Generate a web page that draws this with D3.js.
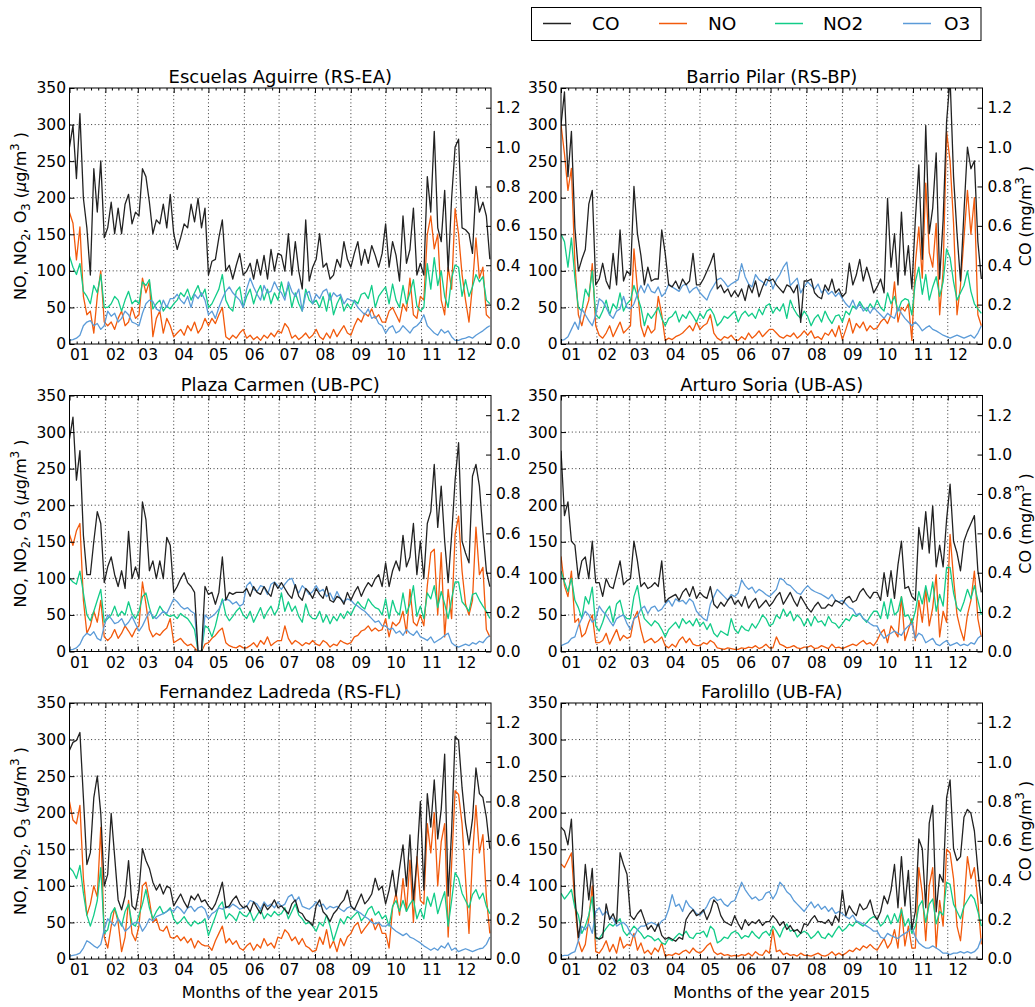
<!DOCTYPE html>
<html><head><meta charset="utf-8">
<script src="https://cdn.jsdelivr.net/npm/d3@7"></script>
<style>body{margin:0;background:#fff} svg{display:block} text{font-family:"DejaVu Sans",sans-serif;fill:#000}</style>
</head><body><svg id="c" width="1035" height="1007"></svg>
<script>
// ---------------- DATA (one value every 3 days, starting 2015-01-01) ----------------
const stations = ["Escuelas Aguirre (RS-EA)","Barrio Pilar (RS-BP)","Plaza Carmen (UB-PC)","Arturo Soria (UB-AS)","Fernandez Ladreda (RS-FL)","Farolillo (UB-FA)"];
const monthLabels = ["01","02","03","04","05","06","07","08","09","10","11","12"];
const leftTicks = [0,50,100,150,200,250,300,350];
const rightTicks = [0.0,0.2,0.4,0.6,0.8,1.0,1.2];
const seriesNames = ["CO","NO","NO2","O3"];
const stepDays = 3;

// Escuelas Aguirre
const coEA = [1.00,1.11,0.84,1.17,0.74,0.59,0.35,0.89,0.67,0.93,0.54, 0.59,0.72,0.56,0.69,0.56,0.71,0.76,0.61,0.67, 0.65,0.89,0.85,0.72,0.56,0.63,0.61,0.71,0.59,0.76, 0.56,0.48,0.54,0.61,0.59,0.71,0.62,0.74,0.59,0.69, 0.35,0.42,0.43,0.54,0.63,0.37,0.40,0.33,0.40,0.46,0.35, 0.37,0.41,0.33,0.43,0.35,0.45,0.33,0.48,0.37,0.46, 0.45,0.37,0.56,0.35,0.52,0.37,0.28,0.63,0.32,0.39, 0.43,0.56,0.39,0.41,0.33,0.35,0.43,0.39,0.52,0.43, 0.39,0.46,0.52,0.40,0.48,0.41,0.50,0.45,0.39,0.46, 0.61,0.39,0.52,0.45,0.32,0.65,0.41,0.48,0.69,0.35,0.41, 0.35,0.85,0.67,1.08,0.59,0.52,0.78,0.37,0.74,1.00, 1.04,0.59,0.58,0.56,0.46,0.80,0.67,0.72,0.65,0.43];
const noEA = [180,165,115,160,65,40,45,15,65,100,30, 25,30,20,35,45,25,30,50,35, 40,90,70,85,10,35,45,15,35,25, 10,15,20,12,25,18,30,15,22,35, 25,35,28,40,50,10,6,12,8,15,20, 8,12,6,10,5,12,8,15,10,18, 15,28,22,8,12,6,10,15,8,12, 20,10,6,15,8,20,10,18,25,15, 12,25,35,30,42,38,48,35,40,30, 30,45,50,40,30,55,45,90,40,35,65, 60,150,175,130,150,60,40,105,75,185, 150,95,60,30,80,145,90,105,40,35];
const no2EA = [120,105,95,110,72,65,55,80,70,95,50, 50,55,65,60,45,60,72,55,60, 55,85,80,88,48,55,60,45,52,48, 55,60,70,65,75,60,70,80,65,75, 50,55,65,75,95,60,50,45,72,78,50, 65,75,55,70,80,60,75,55,70,60, 85,65,80,50,70,55,45,75,60,55, 60,50,65,45,70,40,55,65,45,55, 48,60,55,68,70,62,80,50,65,72, 78,55,82,60,50,80,55,70,88,52,45, 50,110,75,118,80,100,65,50,90,108, 105,65,88,65,78,95,85,92,60,55];
const o3EA = [5,6,8,12,25,30,32,25,28,20,25, 45,38,42,30,35,45,40,30,28, 25,42,55,60,58,48,45,60,50,62, 62,68,60,55,65,50,68,62,70,60, 40,45,35,50,62,72,78,70,65,60,50, 75,90,78,68,60,80,70,72,85,75, 70,60,85,72,65,75,45,68,72,55, 68,62,72,75,60,70,65,68,55,62, 60,58,50,45,40,48,35,38,28,25, 15,22,25,15,18,25,20,15,22,25,30, 40,25,20,15,12,20,15,18,10,5, 5,7,8,10,8,12,15,18,22,25];

// Barrio Pilar
const coBP = [1.11,1.28,0.85,1.08,0.59,0.37,0.43,0.48,0.71,0.78,0.30, 0.33,0.41,0.32,0.28,0.46,0.30,0.58,0.32,0.37, 0.35,0.80,0.56,0.45,0.30,0.39,0.32,0.33,0.33,0.58, 0.46,0.30,0.29,0.32,0.28,0.33,0.30,0.32,0.46,0.30, 0.30,0.33,0.37,0.41,0.46,0.28,0.30,0.26,0.28,0.24,0.27, 0.24,0.28,0.22,0.30,0.26,0.32,0.24,0.29,0.33,0.32, 0.33,0.30,0.28,0.26,0.30,0.29,0.26,0.30,0.11,0.32, 0.32,0.33,0.26,0.24,0.23,0.30,0.27,0.33,0.26,0.28, 0.24,0.26,0.41,0.30,0.35,0.43,0.32,0.39,0.33,0.26, 0.29,0.33,0.26,0.74,0.39,0.56,0.30,0.67,0.35,0.50,0.28, 0.63,0.91,0.43,1.11,0.56,0.69,0.97,0.33,0.63,1.13, 1.35,0.85,0.56,0.32,0.67,1.00,0.89,0.93,0.52,0.33];
const noBP = [300,260,210,240,110,40,25,45,60,110,25, 12,8,15,25,10,20,30,15,20, 25,130,75,25,10,25,15,20,65,40, 5,8,6,10,12,15,20,25,18,30, 20,25,28,40,15,8,5,10,8,12,6, 5,10,6,15,8,12,18,10,15,20, 20,15,10,8,12,10,15,8,12,18, 12,18,8,10,6,15,12,20,10,25, 6,20,35,15,28,22,30,18,25,20, 22,30,35,28,40,85,30,50,45,55,5, 110,160,90,220,125,105,165,40,100,290, 250,165,40,80,145,210,150,200,40,25];
const no2BP = [150,140,105,145,90,50,45,75,65,100,40, 35,45,60,40,55,48,70,45,55, 60,80,65,50,25,42,35,42,50,35, 25,35,38,45,30,40,35,45,38,30, 42,35,45,48,40,25,30,38,35,40,45, 30,40,45,38,42,35,48,40,52,55, 42,50,45,55,35,60,48,40,35,45, 38,25,35,40,30,45,35,28,38,40, 30,45,40,52,48,58,50,45,55,48, 60,50,45,70,55,65,45,58,62,60,40, 85,105,68,95,60,78,92,65,85,130, 118,85,60,70,80,100,72,55,48,42];
const o3BP = [5,6,10,20,30,20,48,40,32,25,40, 62,58,50,40,35,45,48,65,50, 48,55,68,80,70,82,72,70,78,65, 70,82,78,75,72,80,82,70,75,78, 70,65,60,72,80,88,90,85,78,82,85, 88,110,92,82,78,95,88,85,80,92, 75,88,95,105,112,80,85,90,70,78, 85,80,75,82,70,75,68,72,65,70, 62,55,50,60,48,55,45,50,42,50, 45,40,35,42,38,35,50,42,35,30,25, 30,25,18,22,25,20,18,15,12,10, 8,10,12,10,8,10,12,8,15,25];

// Plaza Carmen
const coPC = [1.08,1.19,0.87,1.02,0.59,0.39,0.39,0.56,0.71,0.65,0.35, 0.43,0.48,0.39,0.33,0.41,0.32,0.61,0.37,0.43, 0.37,0.76,0.67,0.41,0.46,0.37,0.46,0.37,0.58,0.54, 0.30,0.33,0.37,0.40,0.35,0.33,0.30,0,0,0.33, 0.29,0.30,0.24,0.30,0.48,0.26,0.30,0.29,0.30,0.30,0.30, 0.32,0.28,0.33,0.30,0.29,0.33,0.30,0.28,0.35,0.32, 0.35,0.32,0.29,0.27,0.34,0.28,0.26,0.32,0.30,0.27, 0.32,0.29,0.27,0.33,0.26,0.25,0.28,0.27,0.24,0.30, 0.26,0.30,0.33,0.28,0.32,0.35,0.33,0.37,0.39,0.33, 0.45,0.33,0.41,0.46,0.41,0.59,0.43,0.48,0.65,0.39,0.56, 0.37,0.65,0.71,0.95,0.63,0.84,0.56,0.35,0.59,0.87, 1.06,0.56,0.50,0.45,0.89,0.95,0.84,0.61,0.41,0.33];
const noPC = [160,145,165,175,70,25,35,55,40,70,20, 15,20,30,18,25,35,28,20,30, 35,95,65,30,20,25,22,28,32,45, 12,15,18,12,8,10,5,0,0,10, 12,18,22,28,32,12,8,6,5,8,5, 5,8,12,6,15,10,20,8,12,15, 15,35,18,10,15,12,8,12,10,15, 10,8,15,12,6,10,8,15,12,10, 12,20,22,28,30,35,28,32,28,30, 45,20,40,35,40,55,25,85,40,35,50, 35,90,135,140,50,135,20,85,45,160, 185,110,65,50,70,170,105,115,30,20];
const no2PC = [100,95,92,110,80,50,42,55,70,85,40, 45,50,62,48,55,50,68,52,45, 55,75,80,60,45,50,62,55,50,48, 50,45,52,48,45,38,30,0,0,35, 32,20,35,55,72,50,42,48,55,60,50, 45,55,40,50,60,45,55,62,50,58, 80,55,68,55,62,48,40,65,50,45, 45,55,40,50,38,48,42,52,45,55, 50,60,68,62,58,72,65,60,58,50, 72,45,70,55,50,80,52,65,90,48,62, 45,80,72,90,60,82,65,45,72,95, 95,68,62,55,78,80,70,62,55,45];
const o3PC = [2,3,5,10,20,25,22,27,18,15,35, 50,45,38,40,45,35,40,48,38, 28,35,45,55,48,45,50,55,52,62, 72,68,62,58,60,55,52,0,0,50, 45,48,52,58,68,72,70,65,68,62,65, 90,95,85,82,90,88,78,92,95,90, 85,92,98,100,88,80,90,85,78,82, 90,82,85,75,80,70,82,72,68,72, 70,65,62,58,55,50,45,40,42,35, 35,30,32,25,28,22,30,25,22,28,20, 18,15,20,12,15,18,22,25,12,8, 6,8,10,8,12,10,14,12,18,22];

// Arturo Soria
const coAS = [1.02,0.69,0.76,0.56,0.54,0.37,0.46,0.48,0.37,0.56,0.35, 0.35,0.28,0.37,0.33,0.32,0.39,0.46,0.34,0.36, 0.37,0.56,0.46,0.33,0.35,0.32,0.33,0.35,0.33,0.46, 0.25,0.27,0.28,0.29,0.26,0.30,0.32,0.28,0.33,0.27, 0.30,0.28,0.27,0.33,0.24,0.22,0.25,0.23,0.26,0.28,0.24, 0.26,0.23,0.28,0.22,0.25,0.27,0.22,0.24,0.26,0.23, 0.25,0.28,0.30,0.24,0.27,0.30,0.26,0.23,0.28,0.25, 0.22,0.20,0.23,0.25,0.22,0.22,0.24,0.23,0.26,0.25, 0.24,0.27,0.28,0.25,0.26,0.30,0.32,0.29,0.27,0.30, 0.30,0.26,0.40,0.28,0.41,0.27,0.44,0.56,0.32,0.33,0.28, 0.26,0.63,0.52,0.71,0.50,0.74,0.43,0.54,0.43,0.67, 0.85,0.56,0.50,0.41,0.56,0.61,0.65,0.69,0.41,0.30];
const noAS = [130,90,75,110,40,45,20,25,40,50,12, 12,15,25,10,20,30,15,22,18, 20,45,55,30,12,15,18,12,15,20, 8,5,10,6,15,20,12,18,10,8, 8,12,10,15,12,5,4,3,5,4,3, 3,5,4,6,5,8,4,6,10,5, 5,20,10,8,5,6,8,5,4,6, 6,8,4,5,8,6,4,10,5,6, 4,6,8,10,8,12,15,10,12,8, 15,25,30,12,35,28,20,75,15,30,45, 15,70,40,85,35,60,105,20,55,40, 160,100,50,30,15,50,70,110,45,20];
const no2AS = [110,95,82,100,70,60,45,75,65,88,35, 28,40,55,62,40,65,70,50,45, 45,75,90,60,45,40,35,42,38,30, 20,30,35,40,32,45,38,42,35,45, 35,40,30,38,25,20,28,25,22,45,30, 25,35,30,28,38,32,40,50,45,35, 38,50,45,58,48,55,42,50,45,35, 45,35,48,40,42,35,48,40,38,32, 38,45,42,50,48,52,45,40,48,55, 55,45,68,45,72,50,55,75,48,50,38, 55,82,65,90,68,95,55,78,62,115, 115,80,60,55,68,85,72,90,70,50];
const o3AS = [8,10,12,18,20,35,45,55,50,40,45, 62,55,50,42,35,45,48,50,38, 30,45,48,58,62,52,60,62,55,58, 65,70,62,72,68,70,65,72,68,55, 50,45,42,65,75,85,80,75,70,78,75, 80,98,90,85,88,80,85,82,78,75, 80,85,100,98,92,90,85,80,78,85, 90,85,82,80,78,75,72,78,70,68, 70,65,60,58,50,52,45,42,38,35, 35,25,18,22,25,28,25,22,30,35,38, 18,25,22,12,15,18,10,8,12,15, 8,10,12,8,10,8,12,10,18,22];

// Fernandez Ladreda
const coFL = [1.06,1.10,1.11,1.15,0.82,0.48,0.54,0.82,0.93,0.74,0.37, 0.43,0.74,0.52,0.30,0.25,0.32,0.50,0.27,0.25, 0.35,0.56,0.50,0.46,0.39,0.35,0.38,0.33,0.37,0.36, 0.27,0.30,0.33,0.29,0.26,0.32,0.30,0.33,0.29,0.30, 0.27,0.25,0.28,0.33,0.39,0.26,0.27,0.30,0.32,0.28,0.26, 0.27,0.24,0.29,0.26,0.23,0.28,0.25,0.27,0.30,0.26, 0.27,0.25,0.23,0.28,0.30,0.24,0.23,0.20,0.19,0.17, 0.27,0.30,0.24,0.22,0.19,0.23,0.25,0.28,0.30,0.35, 0.27,0.25,0.29,0.33,0.28,0.30,0.33,0.41,0.35,0.37, 0.28,0.35,0.45,0.32,0.46,0.58,0.37,0.63,0.30,0.50,0.80, 0.35,0.84,0.67,0.91,0.61,0.76,1.04,0.32,0.65,1.13, 1.11,0.87,0.69,0.58,0.71,0.97,0.84,0.82,0.72,0.56];
const noFL = [215,190,185,210,110,60,75,100,85,180,30, 15,45,70,50,10,30,80,35,25, 45,100,105,80,50,55,40,38,45,30, 28,32,25,30,22,28,15,25,20,18, 18,12,25,35,45,22,28,20,25,15,12, 18,22,12,20,15,28,18,22,15,30, 28,40,35,25,30,20,28,18,15,10, 12,30,20,40,15,25,10,28,18,30, 35,45,50,35,42,48,55,40,50,35, 35,15,70,90,60,110,65,135,50,140,80, 75,185,145,200,100,160,185,30,130,230, 225,185,110,35,140,210,145,170,85,35];
const no2FL = [125,120,110,128,90,60,45,60,80,125,35, 40,62,70,55,45,65,75,48,45, 60,75,95,70,55,65,72,62,65,70, 55,48,52,58,50,45,52,48,50,55, 32,45,58,72,78,55,62,58,52,65,60, 58,65,52,60,68,55,62,58,65,60, 62,70,55,65,75,60,55,48,50,45, 38,50,45,60,45,25,40,55,48,58, 55,60,65,52,58,68,72,60,65,55, 60,45,72,80,65,80,65,75,82,55,68, 55,85,72,90,62,78,92,45,80,118, 110,90,80,70,88,95,82,90,72,62];
const o3FL = [4,5,6,8,15,25,22,18,15,20,40, 55,50,45,55,48,38,42,48,50, 50,38,45,55,52,58,60,62,65,68, 65,72,68,62,70,72,65,70,72,68, 55,62,65,70,68,72,70,75,72,68,70, 72,80,78,75,68,78,72,75,70,78, 72,75,85,88,78,85,72,70,68,72, 78,72,75,68,72,70,72,68,65,70, 72,68,65,62,58,55,50,48,50,45, 45,48,42,38,35,32,35,30,28,25,22, 18,15,12,15,12,18,15,22,12,15, 10,12,14,12,10,12,14,15,20,30];

// Farolillo
const coFA = [0.67,0.65,0.58,0.71,0.32,0.11,0.22,0.48,0.30,0.46,0.11, 0.10,0.11,0.28,0.20,0.23,0.18,0.54,0.48,0.43, 0.22,0.20,0.23,0.25,0.20,0.15,0.17,0.14,0.18,0.12, 0.10,0.11,0.10,0.09,0.11,0.10,0.20,0.23,0.25,0.22, 0.23,0.25,0.20,0.24,0.30,0.28,0.22,0.19,0.18,0.17,0.22, 0.18,0.15,0.20,0.17,0.19,0.18,0.20,0.17,0.19,0.19, 0.22,0.20,0.17,0.19,0.15,0.17,0.14,0.15,0.13,0.18, 0.17,0.20,0.22,0.19,0.19,0.18,0.20,0.17,0.22,0.19, 0.35,0.22,0.27,0.24,0.22,0.28,0.25,0.26,0.30,0.23, 0.20,0.24,0.32,0.28,0.35,0.48,0.26,0.52,0.27,0.45,0.15, 0.24,0.61,0.56,0.26,0.69,0.78,0.24,0.43,0.39,0.82, 0.91,0.56,0.50,0.52,0.72,0.76,0.74,0.65,0.45,0.28];
const noFA = [130,125,135,145,75,25,10,20,55,100,10, 8,15,25,10,20,8,30,15,20, 18,35,12,22,8,12,6,15,10,22, 4,6,5,8,6,10,12,8,15,10, 8,12,18,22,10,6,8,5,6,4,5, 4,6,5,8,4,10,6,5,12,8, 40,10,12,6,8,5,6,4,8,5, 5,4,6,8,5,4,6,10,5,8, 5,8,12,10,15,12,18,15,20,15, 12,20,28,15,22,40,15,70,18,45,15, 15,125,90,25,100,125,15,80,45,150, 145,110,45,25,75,140,110,125,80,20];
const no2FA = [90,82,88,95,70,60,35,45,60,85,28, 28,35,42,48,45,50,55,38,32, 38,45,40,35,28,32,30,25,28,22, 20,28,25,30,35,32,38,30,28,35, 35,38,30,45,40,22,25,30,28,35,38, 35,28,32,30,38,32,28,35,38,32, 45,38,30,42,48,38,40,30,35,38, 35,28,32,38,30,28,35,30,38,45, 38,42,48,45,52,48,45,50,55,58, 55,45,50,60,48,62,50,68,45,55,35, 45,72,80,50,75,82,48,65,60,105, 102,75,65,55,72,80,88,82,65,45];
const o3FA = [4,5,5,8,10,25,45,40,48,35,65, 70,60,65,58,55,45,48,50,45, 35,30,40,45,45,48,50,48,45,52, 55,68,88,72,75,65,80,72,68,62, 60,65,72,82,85,80,82,75,72,78,80, 92,105,95,88,82,85,80,82,90,92, 82,90,105,100,92,88,80,75,70,65, 72,78,70,75,68,72,65,70,62,65, 62,58,55,60,52,50,48,45,42,38, 38,30,28,35,32,30,28,32,35,38,45, 30,22,18,15,15,18,15,12,8,8, 6,8,8,10,8,10,8,10,15,28];

// table built from the arrays
const panels = [
  {title: stations[0], CO: coEA, NO: noEA, NO2: no2EA, O3: o3EA},
  {title: stations[1], CO: coBP, NO: noBP, NO2: no2BP, O3: o3BP},
  {title: stations[2], CO: coPC, NO: noPC, NO2: no2PC, O3: o3PC},
  {title: stations[3], CO: coAS, NO: noAS, NO2: no2AS, O3: o3AS},
  {title: stations[4], CO: coFL, NO: noFL, NO2: no2FL, O3: o3FL},
  {title: stations[5], CO: coFA, NO: noFA, NO2: no2FA, O3: o3FA}
];

// ---------------- DRAWING ----------------
const colors = {CO:"#222222", NO:"#f25a0c", NO2:"#12cc88", O3:"#5b9bd8"};
const svg = d3.select("#c");
const W = 421.5, H = 256;
const colX = [69.5, 561];
const rowY = [88, 395.5, 703];
const t0 = Date.UTC(2015,0,1), t1 = Date.UTC(2015,11,31);
const dayMs = 864e5;
const FONT = "DejaVu Sans";

const months = d3.utcMonth.range(new Date(t0), new Date(t1));
const minorTicks = [];
months.forEach(m => {
  const next = d3.utcMonth.offset(m, 1);
  const len = next - m;
  for (let j = 1; j < 5; j++) {
    const t = new Date(+m + j * len / 5);
    if (+t <= t1) minorTicks.push(t);
  }
});

const defs = svg.append("defs");

panels.forEach((p, k) => {
  const col = k % 2, row = Math.floor(k / 2);
  const x0 = colX[col], y0 = rowY[row];
  const x = d3.scaleUtc().domain([t0, t1]).range([x0, x0 + W]);
  const yL = d3.scaleLinear().domain([0, 350]).range([y0 + H, y0]);
  const yR = d3.scaleLinear().domain([0, 1.3]).range([y0 + H, y0]);
  const g = svg.append("g");
  const cid = "clip" + k;
  defs.append("clipPath").attr("id", cid).append("rect")
    .attr("x", x0).attr("y", y0).attr("width", W).attr("height", H);

  // grid
  g.selectAll(null).data(months.slice(1)).enter().append("line")
    .attr("x1", d => x(d)).attr("x2", d => x(d)).attr("y1", y0).attr("y2", y0 + H)
    .attr("stroke", "#000").attr("stroke-width", 0.8).attr("stroke-dasharray", "1,2.6");
  g.selectAll(null).data(leftTicks.filter(v => v > 0 && v < 350)).enter().append("line")
    .attr("x1", x0).attr("x2", x0 + W).attr("y1", d => yL(d)).attr("y2", d => yL(d))
    .attr("stroke", "#000").attr("stroke-width", 0.8).attr("stroke-dasharray", "1,2.6");

  // data lines
  const lg = g.append("g").attr("clip-path", `url(#${cid})`);
  const dateAt = i => new Date(t0 + i * stepDays * dayMs);
  const lineL = d3.line().x((d, i) => x(dateAt(i))).y(d => yL(d));
  const lineR = d3.line().x((d, i) => x(dateAt(i))).y(d => yR(d));
  ["NO", "NO2", "O3"].forEach(s => {
    lg.append("path").attr("d", lineL(p[s])).attr("fill", "none")
      .attr("stroke", colors[s]).attr("stroke-width", 1.3).attr("stroke-linejoin", "round");
  });
  lg.append("path").attr("d", lineR(p.CO)).attr("fill", "none")
    .attr("stroke", colors.CO).attr("stroke-width", 1.3).attr("stroke-linejoin", "round");

  // axes
  const styleAxis = sel => {
    sel.select(".domain").remove();
    sel.attr("font-family", FONT).attr("font-size", 15.5);
    sel.selectAll("line").attr("stroke", "#000");
    sel.selectAll("text").attr("fill", "#000");
  };
  const xb = g.append("g").attr("transform", `translate(0,${y0 + H})`)
    .call(d3.axisBottom(x).tickValues(months).tickSizeInner(-5).tickSizeOuter(0).tickPadding(5)
      .tickFormat(d => monthLabels[d.getUTCMonth()]));
  styleAxis(xb);
  xb.selectAll("text").attr("text-anchor", "start");
  const xt = g.append("g").attr("transform", `translate(0,${y0})`)
    .call(d3.axisTop(x).tickValues(months).tickSizeInner(-5).tickSizeOuter(0).tickFormat(""));
  styleAxis(xt);
  const xbm = g.append("g").attr("transform", `translate(0,${y0 + H})`)
    .call(d3.axisBottom(x).tickValues(minorTicks).tickSizeInner(-2.5).tickSizeOuter(0).tickFormat(""));
  styleAxis(xbm);
  const xtm = g.append("g").attr("transform", `translate(0,${y0})`)
    .call(d3.axisTop(x).tickValues(minorTicks).tickSizeInner(-2.5).tickSizeOuter(0).tickFormat(""));
  styleAxis(xtm);
  const yl = g.append("g").attr("transform", `translate(${x0},0)`)
    .call(d3.axisLeft(yL).tickValues(leftTicks).tickSizeInner(-5).tickSizeOuter(0).tickPadding(3.5)
      .tickFormat(d3.format("d")));
  styleAxis(yl);
  const yr = g.append("g").attr("transform", `translate(${x0 + W},0)`)
    .call(d3.axisRight(yR).tickValues(rightTicks).tickSizeInner(-5).tickSizeOuter(0).tickPadding(5)
      .tickFormat(d3.format(".1f")));
  styleAxis(yr);

  // frame
  g.append("rect").attr("x", x0).attr("y", y0).attr("width", W).attr("height", H)
    .attr("fill", "none").attr("stroke", "#000").attr("stroke-width", 1);

  // title
  g.append("text").attr("x", x0 + W / 2).attr("y", y0 - 5).attr("text-anchor", "middle")
    .attr("font-size", 18).attr("font-family", FONT).text(p.title);

  // axis labels
  if (col === 0) {
    const t = g.append("text").attr("transform", `translate(20,${y0 + H / 2}) rotate(-90)`)
      .attr("text-anchor", "middle").attr("dy", "0.35em").attr("font-size", 16).attr("font-family", FONT);
    t.append("tspan").text("NO, NO");
    t.append("tspan").attr("font-size", 11.5).attr("dy", 4).text("2");
    t.append("tspan").attr("dy", -4).text(", O");
    t.append("tspan").attr("font-size", 11.5).attr("dy", 4).text("3");
    t.append("tspan").attr("dy", -4).text(" (");
    t.append("tspan").attr("font-style", "italic").text("\u03bc");
    t.append("tspan").text("g/m");
    t.append("tspan").attr("font-size", 11.5).attr("dy", -7).text("3");
    t.append("tspan").attr("dy", 7).text(" )");
  } else {
    const t = g.append("text").attr("transform", `translate(1025,${y0 + H / 2}) rotate(-90)`)
      .attr("text-anchor", "middle").attr("dy", "0.35em").attr("font-size", 16).attr("font-family", FONT);
    t.append("tspan").text("CO (mg/m");
    t.append("tspan").attr("font-size", 11.5).attr("dy", -7).text("3");
    t.append("tspan").attr("dy", 7).text(" )");
  }
  if (row === 2) {
    g.append("text").attr("x", x0 + W / 2).attr("y", 998).attr("text-anchor", "middle")
      .attr("font-size", 16).attr("font-family", FONT).text("Months of the year 2015");
  }
});

// legend
const leg = svg.append("g");
leg.append("rect").attr("x", 531.5).attr("y", 7.5).attr("width", 449.5).attr("height", 33)
  .attr("fill", "#fff").attr("stroke", "#000").attr("stroke-width", 1);
const legLineX = [543, 659, 775, 903];
const legTextX = [592, 708, 823, 944];
seriesNames.forEach((s, i) => {
  leg.append("line").attr("x1", legLineX[i]).attr("x2", legLineX[i] + 28).attr("y1", 23.5).attr("y2", 23.5)
    .attr("stroke", colors[s]).attr("stroke-width", 1.5);
  leg.append("text").attr("x", legTextX[i]).attr("y", 23.5).attr("dy", "0.35em")
    .attr("font-size", 18.5).attr("font-family", FONT).text(s);
});
</script>
</body></html>
